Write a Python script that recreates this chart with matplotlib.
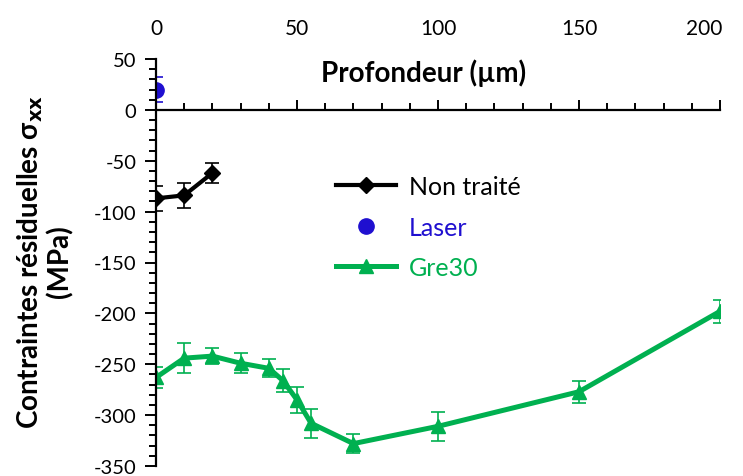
import numpy as np
import matplotlib.pyplot as plt
from matplotlib.ticker import MultipleLocator, FuncFormatter

plt.rcParams['font.family'] = ['Lato', 'DejaVu Sans']
plt.rcParams['axes.unicode_minus'] = False

# Data
nt_x = [0, 10, 20]
nt_y = [-87, -84, -62]
nt_err = [12, 12, 10]

laser_x = [0]
laser_y = [20]
laser_err = [12]

gre_x = [0, 10, 20, 30, 40, 45, 50, 55, 70, 100, 150, 200]
gre_y = [-263, -244, -242, -249, -254, -266, -285, -308, -328, -311, -277, -198]
gre_err = [10, 15, 8, 10, 9, 11, 13, 14, 9, 14, 11, 11]

x_max = 200

black = '#000000'
blue = '#1f0fd0'
green = '#00b050'

fig = plt.figure(figsize=(7.43, 4.77), dpi=100)
ax = fig.add_axes([156/743, 1 - 467/477, (720-156)/743, (467-60)/477])

ax.errorbar(nt_x, nt_y, yerr=nt_err, fmt='none', ecolor=black, elinewidth=1.2, capsize=5, capthick=1.2)
ax.errorbar(laser_x, laser_y, yerr=laser_err, fmt='none', ecolor=blue, elinewidth=1.2, capsize=5, capthick=1.2)
ax.errorbar(gre_x, gre_y, yerr=gre_err, fmt='none', ecolor=green, elinewidth=1.2, capsize=5, capthick=1.2)

ax.plot(nt_x, nt_y, color=black, lw=3, marker='D', ms=8.5, label='Non traité')
ax.plot(laser_x, laser_y, color=blue, ls='none', marker='o', ms=11, label='Laser')
ax.plot(gre_x, gre_y, color=green, lw=3.6, marker='^', ms=10.5, label='Gre30')

ax.set_xlim(0, x_max)
ax.set_ylim(-350, 50)

for s in ['top', 'right']:
    ax.spines[s].set_visible(False)
ax.spines['bottom'].set_position(('data', 0))
ax.spines['left'].set_position(('data', 0))
ax.spines['bottom'].set_linewidth(1.6)
ax.spines['left'].set_linewidth(1.6)

ax.xaxis.set_major_locator(MultipleLocator(50))
ax.xaxis.set_minor_locator(MultipleLocator(10))
ax.yaxis.set_major_locator(MultipleLocator(50))
ax.yaxis.set_minor_locator(MultipleLocator(10))
ax.tick_params(axis='x', which='both', direction='in', labelbottom=False, width=1.4)
ax.tick_params(axis='x', which='major', length=7)
ax.tick_params(axis='x', which='minor', length=5)
ax.tick_params(axis='y', which='both', direction='out', width=1.4, labelsize=14.5, pad=6)
ax.tick_params(axis='y', which='major', length=8)
ax.tick_params(axis='y', which='minor', length=5)

# depth tick labels sit above the plot; the last one is pulled inside like Excel does
top = ax.secondary_xaxis('top')
top.xaxis.set_major_locator(MultipleLocator(50))
top.xaxis.set_major_formatter(FuncFormatter(lambda v, p: '' if v >= x_max else f'{v:.0f}'))
top.spines['top'].set_visible(False)
top.tick_params(length=0, labelsize=15, pad=15)
ax.annotate(f'{x_max}', xy=(x_max, 50), xytext=(2, 15), textcoords='offset points',
            ha='right', va='bottom', fontsize=15, annotation_clip=False)

ax.text(95, 37, 'Profondeur (µm)', ha='center', va='center', fontsize=20, fontweight='bold')

fig.text(44/743, 1 - 262/477, 'Contraintes résiduelles σ$_{\\mathbf{xx}}$\n(MPa)', fontsize=20,
         fontweight='bold', rotation=90, ha='center', va='center', multialignment='center',
         linespacing=1.05)

leg = ax.legend(loc='upper left', bbox_to_anchor=(0.28, 0.77), frameon=False, fontsize=18,
                handlelength=2.4, handletextpad=0.5, labelspacing=0.7,
                labelcolor=[black, blue, green])

fig.savefig('out.png', dpi=100)
